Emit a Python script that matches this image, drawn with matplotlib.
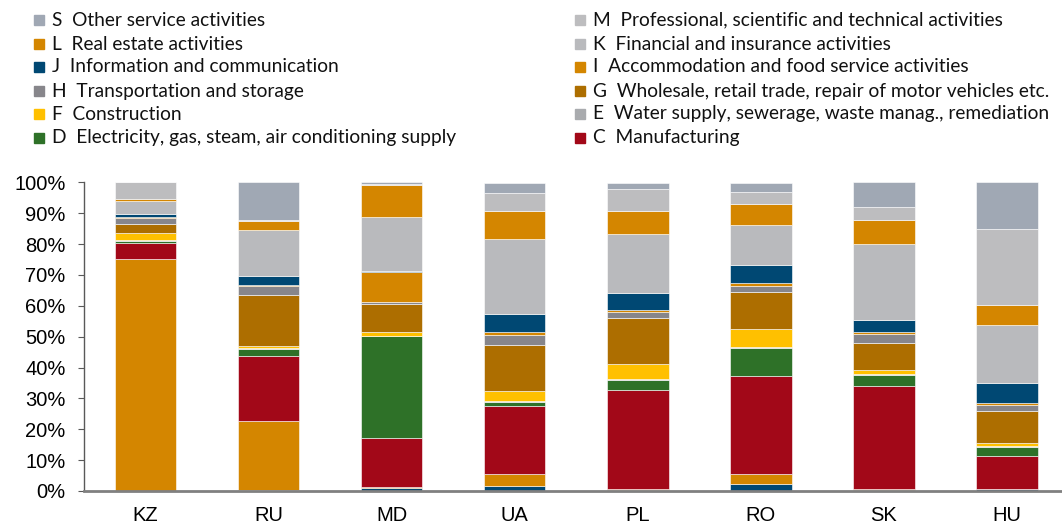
import matplotlib
matplotlib.use("Agg")
import matplotlib.pyplot as plt
from matplotlib.patches import Rectangle
import numpy as np

countries = ["KZ", "RU", "MD", "UA", "PL", "RO", "SK", "HU"]

# sector shares in %, bottom to top
A = [0.0, 0.2, 0.9, 1.5, 0.3, 2.4, 0.3, 0.5]
B = [75.2, 22.5, 0.3, 4.0, 0.4, 3.0, 0.4, 0.2]
C = [5.1, 21.1, 15.9, 22.1, 32.1, 31.7, 33.4, 10.5]
D = [0.6, 2.3, 33.0, 1.3, 3.2, 9.3, 3.6, 3.1]
E = [0.3, 0.2, 0.2, 0.3, 0.3, 0.4, 0.3, 0.3]
F = [2.5, 0.6, 1.1, 3.3, 4.8, 5.6, 1.1, 1.0]
G = [2.7, 16.6, 9.1, 14.9, 15.1, 12.2, 9.0, 10.4]
H = [1.9, 2.9, 0.8, 3.1, 1.8, 1.9, 2.9, 1.7]
I = [0.3, 0.4, 9.6, 1.0, 0.5, 0.8, 0.6, 0.8]
J = [1.1, 2.8, 0.3, 5.8, 5.6, 5.8, 3.9, 6.6]
K = [4.1, 14.8, 17.7, 24.2, 19.0, 13.2, 24.6, 18.7]
L = [0.9, 3.2, 10.2, 9.3, 7.7, 6.6, 7.8, 6.6]
M = [5.4, 0.3, 0.5, 5.6, 6.9, 3.9, 4.1, 24.5]
S = [0.0, 12.2, 0.5, 3.5, 2.2, 3.1, 8.0, 15.1]

sectors = [A, B, C, D, E, F, G, H, I, J, K, L, M, S]
labels = [None, None,
          "C  Manufacturing",
          "D  Electricity, gas, steam, air conditioning supply",
          "E  Water supply, sewerage, waste manag., remediation",
          "F  Construction",
          "G  Wholesale, retail trade, repair of motor vehicles etc.",
          "H  Transportation and storage",
          "I  Accommodation and food service activities",
          "J  Information and communication",
          "K  Financial and insurance activities",
          "L  Real estate activities",
          "M  Professional, scientific and technical activities",
          "S  Other service activities"]
colors = ["#004873", "#d48600", "#a20818", "#2e7128", "#a9abae", "#ffc000",
          "#ad6e00", "#87868b", "#d48600", "#004873", "#b9babd", "#d48600",
          "#bdbdbf", "#a0a8b4"]

fig = plt.figure(figsize=(10.62, 5.26), dpi=100)
ax = fig.add_axes([84 / 1062, 35 / 526, (1068.5 - 84) / 1062, (491 - 182.3) / 526])

x = np.arange(len(countries))
bottom = np.zeros(len(countries))
for vals, col in zip(sectors, colors):
    v = np.array(vals) / 100
    ax.bar(x, v, 0.5, bottom=bottom, color=col, edgecolor="white", linewidth=0.4)
    bottom += v

ax.set_xlim(-0.5, 7.5)
ax.set_ylim(0, 1.0)
ax.set_yticks(np.arange(0, 1.01, 0.1))
ax.set_yticklabels([f"{int(round(t * 100))}%" for t in np.arange(0, 1.01, 0.1)])
ax.set_xticks(x)
ax.set_xticklabels(countries)
for s in ["top", "right"]:
    ax.spines[s].set_visible(False)
ax.spines["left"].set_color("#595959")
ax.spines["left"].set_linewidth(1.0)
ax.spines["bottom"].set_color("#808080")
ax.spines["bottom"].set_linewidth(2.0)
ax.tick_params(axis="y", length=4.3, color="#595959", labelsize=14.5, pad=9)
ax.tick_params(axis="x", length=0, labelsize=14.5, pad=11)
for t in ax.get_xticklabels() + ax.get_yticklabels():
    t.set_fontfamily("Liberation Sans")

# legend drawn by hand: two columns, top-to-bottom S ... C
left_col = [13, 11, 9, 7, 5, 3]
right_col = [12, 10, 8, 6, 4, 2]
row_y = [20, 44, 67, 91, 114, 138]
for col_idx, x0 in [(left_col, 34), (right_col, 575)]:
    for k, yy in zip(col_idx, row_y):
        fig.patches.append(Rectangle(((x0) / 1062, 1 - (yy + 5) / 526), 10 / 1062, 10 / 526,
                                     transform=fig.transFigure, color=colors[k]))
        fig.text((x0 + 18) / 1062, 1 - yy / 526, labels[k], fontsize=13.8,
                 fontfamily="Lato", va="center", ha="left", color="#111111")

fig.savefig("out.png", dpi=100)
